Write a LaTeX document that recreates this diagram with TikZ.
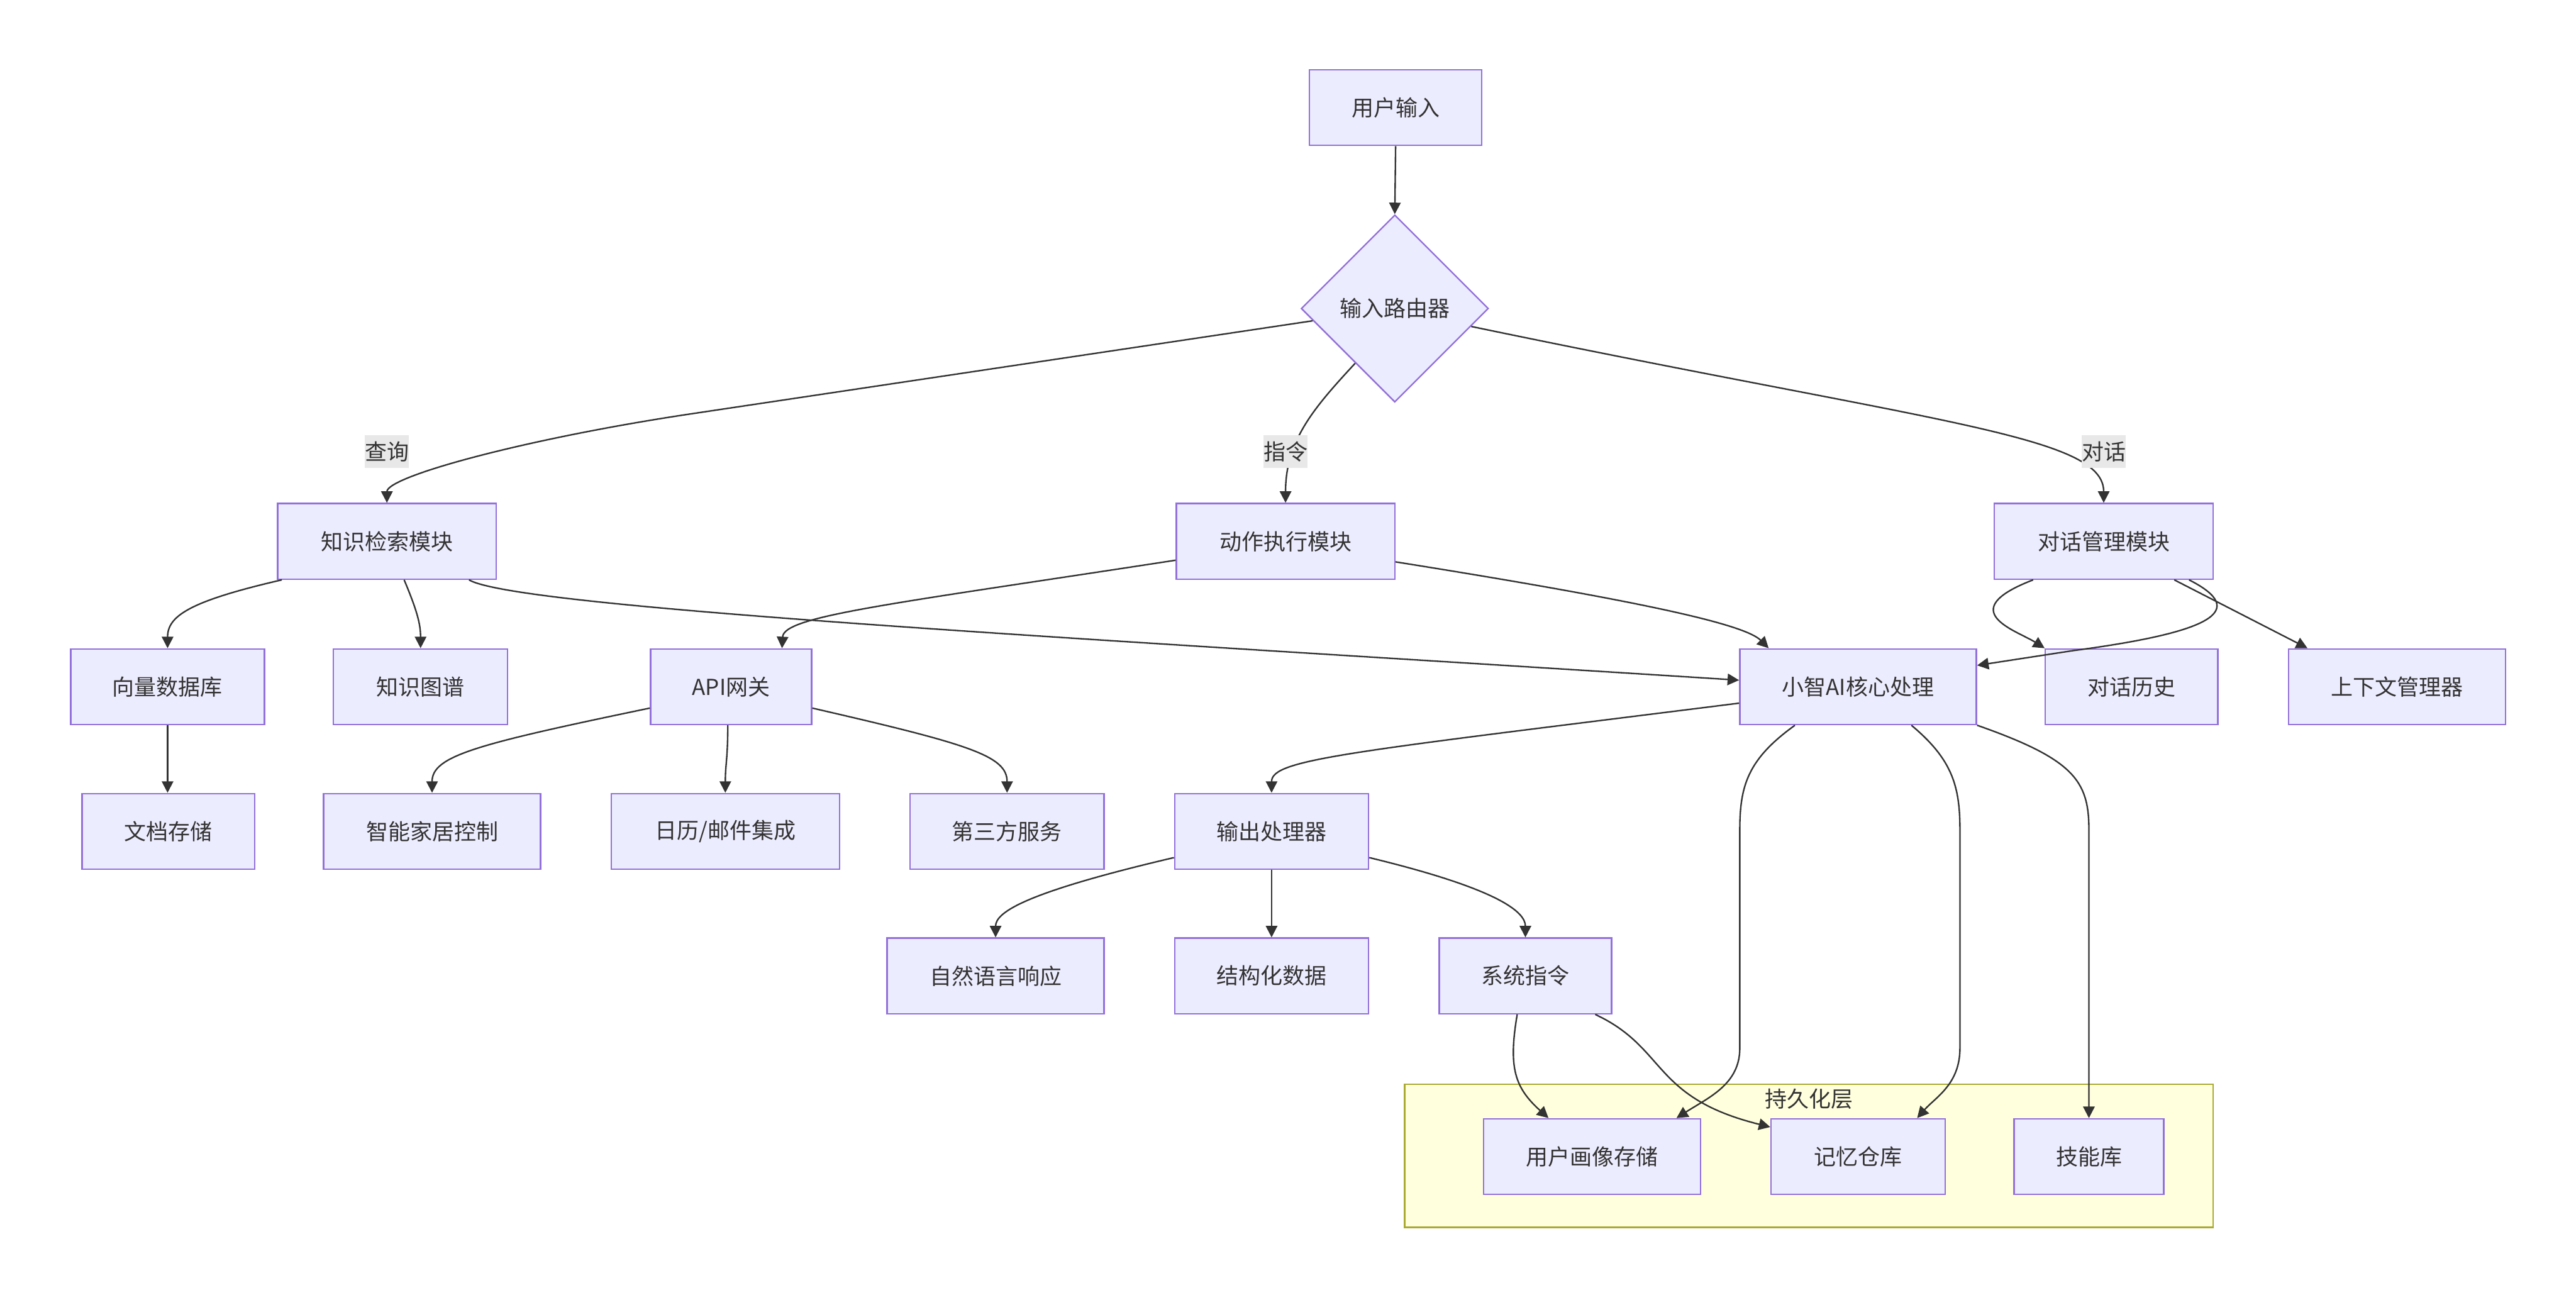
\documentclass[tikz,border=0pt]{standalone}
\usepackage{fontspec}
\newfontfamily\cjk{Noto Sans CJK SC}
\usetikzlibrary{arrows.meta,shapes.geometric,calc}
\definecolor{nodefill}{HTML}{ECECFF}
\definecolor{nodeline}{HTML}{9370DB}
\definecolor{edgecol}{HTML}{333333}
\definecolor{txt}{HTML}{333333}
\definecolor{clfill}{HTML}{FFFFDE}
\definecolor{clline}{HTML}{AAAA33}
\definecolor{lblbg}{HTML}{E8E8E8}
\begin{document}
\begin{tikzpicture}[x=1pt,y=-1pt,
  txtfont/.style={text=txt,font=\cjk\fontsize{13.4}{16}\selectfont},
  box/.style={draw=nodeline,fill=nodefill,line width=0.9pt,minimum height=46pt,inner sep=0pt,txtfont},
  dia/.style={diamond,aspect=1,draw=nodeline,fill=nodefill,line width=0.9pt,minimum width=114pt,minimum height=114pt,inner sep=0pt,txtfont},
  lbl/.style={fill=lblbg,inner sep=0pt,minimum width=27pt,minimum height=20pt,txtfont},
  conn/.style={draw=edgecol,line width=0.9pt,-{Triangle[length=7pt,width=7pt]}}]
\useasboundingbox[fill=white] (0,0) rectangle (1568,791);

% cluster
\node[draw=clline,fill=clfill,line width=0.9pt,minimum width=492pt,minimum height=87pt,inner sep=0pt] (cl) at (1101,703.5) {};
\node[txtfont] (cltitle) at (1101,669) {持久化层};

% nodes
\node[box,minimum width=105pt] (A) at (849.5,65.5) {用户输入};
\node[dia] (B) at (849,187.8) {输入路由器};
\node[box,minimum width=133pt] (C) at (235.5,329.5) {知识检索模块};
\node[box,minimum width=133pt] (D) at (782.5,329.5) {动作执行模块};
\node[box,minimum width=133pt] (E) at (1280.5,329.5) {对话管理模块};
\node[box,minimum width=118pt] (vec) at (102,418) {向量数据库};
\node[box,minimum width=106pt] (graph) at (256,418) {知识图谱};
\node[box,minimum width=98pt] (API) at (445,418) {API网关};
\node[box,minimum width=144pt] (core) at (1131,418) {小智AI核心处理};
\node[box,minimum width=105pt] (hist) at (1297.5,418) {对话历史};
\node[box,minimum width=132pt] (ctx) at (1459,418) {上下文管理器};
\node[box,minimum width=105pt] (doc) at (102.5,506) {文档存储};
\node[box,minimum width=132pt] (smart) at (263,506) {智能家居控制};
\node[box,minimum width=139pt] (cal) at (441.5,506) {日历/邮件集成};
\node[box,minimum width=118pt] (third) at (613,506) {第三方服务};
\node[box,minimum width=118pt] (out) at (774,506) {输出处理器};
\node[box,minimum width=132pt] (nl) at (606,594) {自然语言响应};
\node[box,minimum width=118pt] (struct) at (774,594) {结构化数据};
\node[box,minimum width=105pt] (sys) at (928.5,594) {系统指令};
\node[box,minimum width=132pt] (profile) at (969,704) {用户画像存储};
\node[box,minimum width=106pt] (mem) at (1131,704) {记忆仓库};
\node[box,minimum width=91pt] (skill) at (1271.5,704) {技能库};

% edges
\draw[conn] (A.south) -- (B.north);
\draw[conn] ($(B.west)!0.13!(B.south)$) -- (420,252) .. controls (320,267) and (235.5,290) .. (C.north);
\draw[conn] ($(B.west)!0.58!(B.south)$) .. controls (800,248) and (782.5,268) .. (D.north);
\draw[conn] ($(B.east)!0.19!(B.south)$) .. controls (1180,258) and (1280.5,265) .. (E.north);
\draw[conn] ($(C.south west)+(3,0)$) .. controls (115,366) and (102,375) .. (vec.north);
\draw[conn] ($(C.south)+(10.5,0)$) .. controls (254,372) and (256,380) .. (graph.north);
\draw[conn] ($(C.south east)+(-17,0)$) .. controls (315,370) and (650,388) .. ($(core.west)+(0,-4)$);
\draw[conn] ($(D.west)+(0,11.5)$) .. controls (540,368) and (477,375) .. ($(API.north)+(31,0)$);
\draw[conn] ($(D.east)+(0,12.5)$) .. controls (1000,366) and (1062,380) .. ($(core.north west)+(18,0)$);
\draw[conn] ($(E.south west)+(24,0)$) .. controls (1188,372) and (1228,384) .. (hist.north west);
\draw[conn] ($(E.south east)+(-15,0)$) .. controls (1370,372) and (1345,385) .. (1262,396) -- ($(core.east)+(0,-13)$);
\draw[conn] ($(E.south east)+(-24,0)$) -- ($(ctx.north west)+(12,0)$);
\draw[conn] (vec.south) -- (vec.south |- doc.north);
\draw[conn] ($(API.west)+(0,13)$) .. controls (290,453) and (263,460) .. (smart.north);
\draw[conn] ($(API.south)+(-2,0)$) .. controls (443,462) and (441.5,465) .. (cal.north);
\draw[conn] ($(API.east)+(0,13)$) .. controls (590,453) and (613,460) .. (third.north);
\draw[conn] ($(core.west)+(0,10)$) .. controls (820,458) and (774,462) .. (out.north);
\draw[conn] ($(core.south west)+(34,0)$) .. controls (1064,462) and (1059,478) .. (1059,505) -- (1059,638) .. controls (1059,660) and (1040,668) .. ($(profile.north east)+(-15,0)$);
\draw[conn] ($(core.south east)+(-40,0)$) .. controls (1188,462) and (1193,478) .. (1193,505) -- (1193,638) .. controls (1193,660) and (1178,668) .. ($(mem.north east)+(-17.5,0)$);
\draw[conn] (core.south east) .. controls (1262,462) and (1271.5,475) .. (1271.5,505) -- (skill.north);
\draw[conn] ($(out.west)+(0,16)$) .. controls (625,543) and (606,555) .. (nl.north);
\draw[conn] (out.south) -- (struct.north);
\draw[conn] ($(out.east)+(0,16)$) .. controls (912,541) and (928.5,555) .. (sys.north);
\draw[conn] ($(sys.south)+(-5,0)$) .. controls (918,650) and (922,662) .. ($(profile.north west)+(40,0)$);
\draw[conn] ($(sys.south)+(42.5,0)$) .. controls (1015,638) and (1005,668) .. ($(mem.west)+(0,-18)$);

% edge labels
\node[lbl] (l1) at (235.5,275) {查询};
\node[lbl] (l2) at (782.5,275) {指令};
\node[lbl] (l3) at (1280.5,275) {对话};
\end{tikzpicture}
\end{document}
